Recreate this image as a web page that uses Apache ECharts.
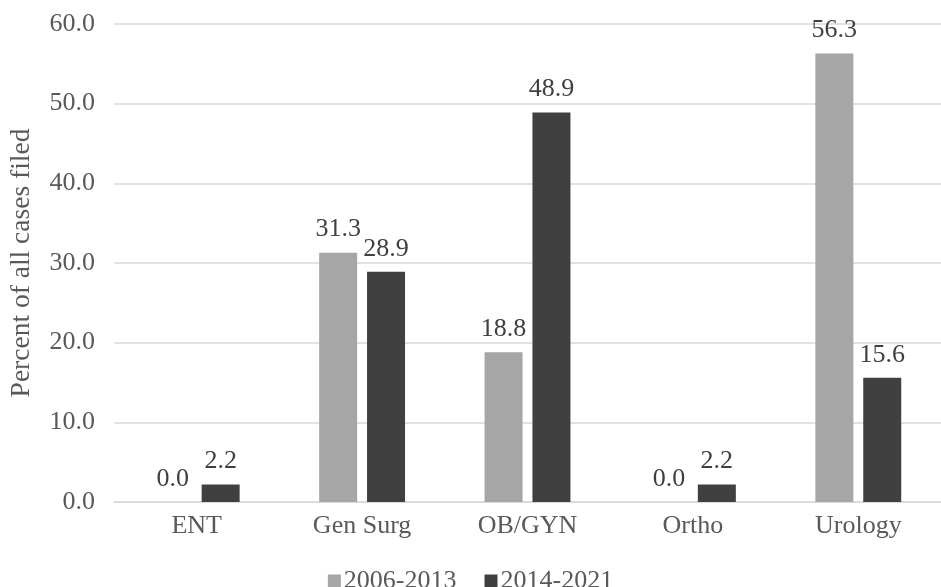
<!DOCTYPE html>
<html>
<head>
<meta charset="utf-8">
<script src="https://cdn.jsdelivr.net/npm/echarts@6/dist/echarts.min.js"></script>
<style>
  html, body { margin: 0; padding: 0; background: #fff; }
  #chart { width: 941px; height: 587px; }
</style>
</head>
<body>
<div id="chart"></div>
<script>
  const categories = ['ENT', 'Gen Surg', 'OB/GYN', 'Ortho', 'Urology'];
  const period1 = [0.0, 31.3, 18.8, 0.0, 56.3];
  const period2 = [2.2, 28.9, 48.9, 2.2, 15.6];
  const seriesNames = ['2006-2013', '2014-2021'];

  const font = 'Liberation Serif';
  const chart = echarts.init(document.getElementById('chart'));

  const labelStyle = {
    show: true,
    position: 'top',
    distance: 10,
    fontFamily: font,
    fontSize: 26,
    color: '#404040',
    formatter: (p) => p.value.toFixed(1),
  };

  chart.setOption({
    animation: false,
    textStyle: { fontFamily: font },
    grid: { left: 110, right: 0, top: 24, bottom: 85 },
    legend: {
      top: 563,
      left: 'center',
      itemWidth: 13,
      itemHeight: 13,
      itemGap: 28,
      icon: 'rect',
      textStyle: { fontFamily: font, fontSize: 26, color: '#595959', padding: [0, 0, 0, -2] },
      data: seriesNames,
    },
    xAxis: {
      type: 'category',
      data: categories,
      axisLine: { lineStyle: { color: '#d9d9d9', width: 1.5 } },
      axisTick: { show: false },
      axisLabel: { fontFamily: font, fontSize: 26, color: '#595959', margin: 11 },
    },
    yAxis: {
      type: 'value',
      min: 0,
      max: 60,
      interval: 10,
      name: 'Percent of all cases filed',
      nameLocation: 'middle',
      nameGap: 78,
      nameTextStyle: { fontFamily: font, fontSize: 27.5, color: '#595959' },
      axisLabel: {
        fontFamily: font,
        fontSize: 26,
        color: '#595959',
        margin: 19,
        formatter: (v) => v.toFixed(1),
      },
      splitLine: { lineStyle: { color: '#d9d9d9', width: 1.5 } },
    },
    series: [
      {
        name: seriesNames[0],
        type: 'bar',
        data: period1,
        barWidth: 38,
        barGap: '26%',
        itemStyle: { color: '#a6a6a6' },
        label: labelStyle,
      },
      {
        name: seriesNames[1],
        type: 'bar',
        data: period2,
        barWidth: 38,
        itemStyle: { color: '#404040' },
        label: labelStyle,
      },
    ],
  });
</script>
</body>
</html>
